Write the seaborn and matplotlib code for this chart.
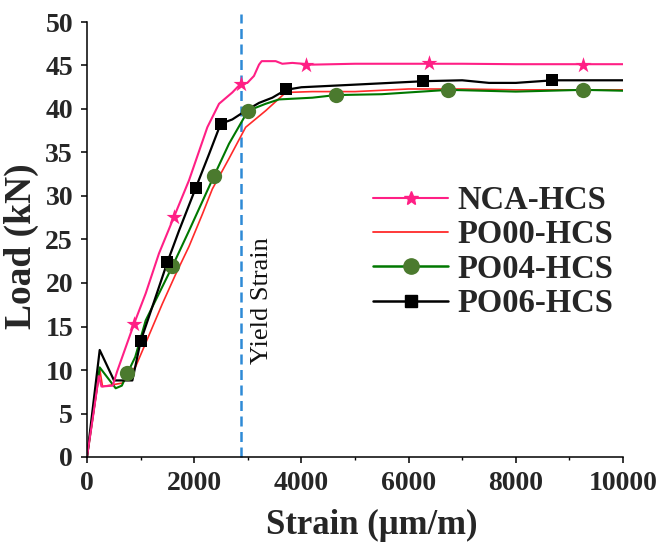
import matplotlib
matplotlib.use("Agg")
import matplotlib.pyplot as plt
from matplotlib.lines import Line2D
from matplotlib.ticker import MultipleLocator
import seaborn as sns
import pandas as pd

# ---------------- data ----------------
nca_strain = [0, 120, 220, 270, 480, 560, 877, 1095, 1343, 1623, 1903, 2245, 2463, 2711,
              2867, 2991, 3115, 3209, 3259, 3520, 3644, 3831, 4204, 5000, 6000, 7000,
              8000, 9000, 10000]
nca_load = [0, 5.0, 9.3, 8.1, 8.2, 9.8, 15.3, 18.8, 23.4, 27.6, 31.8, 37.9, 40.6, 41.9,
            42.9, 43.0, 43.8, 45.1, 45.5, 45.5, 45.2, 45.3, 45.1, 45.2, 45.2, 45.2,
            45.15, 45.15, 45.15]

po00_strain = [0, 240, 290, 659, 908, 1157, 1405, 1654, 1903, 2152, 2338, 2649, 2960,
               3333, 3707, 4204, 5000, 6000, 7000, 8000, 9000, 10000]
po00_load = [0, 10.0, 8.1, 8.5, 10.4, 14.0, 17.6, 21.0, 24.2, 27.9, 30.8, 34.3, 37.9,
             39.8, 41.9, 42.0, 42.0, 42.3, 42.3, 42.2, 42.2, 42.2]

po04_strain = [0, 237, 535, 650, 752, 900, 1095, 1592, 1903, 2369, 2649, 3004, 3333,
               3582, 4204, 4640, 5500, 6741, 8000, 9254, 10000]
po04_load = [0, 10.3, 7.9, 8.2, 9.6, 11.5, 15.7, 21.9, 26.0, 32.3, 36.0, 39.8, 40.6,
             41.1, 41.3, 41.6, 41.7, 42.2, 42.0, 42.2, 42.1]

po06_strain = [0, 237, 504, 846, 1000, 1281, 1500, 1716, 2027, 2276, 2494, 2711, 2960,
               3209, 3458, 3707, 4000, 5000, 6300, 7000, 7500, 8000, 8700, 10000]
po06_load = [0, 12.3, 8.8, 8.8, 13.3, 18.4, 22.4, 26.0, 30.9, 34.8, 38.3, 38.8, 39.8,
             40.7, 41.3, 42.2, 42.5, 42.8, 43.2, 43.3, 43.0, 43.0, 43.3, 43.3]

nca_mk_strain = [877, 1623, 2867, 4080, 6381, 9254]
nca_mk_load = [15.3, 27.6, 42.9, 45.1, 45.3, 45.1]
po04_mk_strain = [752, 1592, 2369, 3004, 4640, 6741, 9254]
po04_mk_load = [9.6, 21.9, 32.3, 39.8, 41.6, 42.2, 42.2]
po06_mk_strain = [1000, 1500, 2027, 2494, 3707, 6269, 8670]
po06_mk_load = [13.3, 22.4, 30.9, 38.3, 42.3, 43.2, 43.3]

yield_strain = 2870
series_names = ["NCA-HCS", "PO00-HCS", "PO04-HCS", "PO06-HCS"]
x_ticks = [0, 2000, 4000, 6000, 8000, 10000]
y_ticks = [0, 5, 10, 15, 20, 25, 30, 35, 40, 45, 50]

# ---------------- style ----------------
sns.set_style("ticks")
plt.rcParams["font.family"] = ["Liberation Serif", "DejaVu Serif"]
plt.rcParams["font.weight"] = "bold"

PINK = "#FF1F85"
RED = "#FF2A2A"
GREEN = "#007800"
GREEN_MK = "#4B7A2E"
BLACK = "#000000"
BLUE = "#2E8AD6"

fig = plt.figure(figsize=(6.66, 5.45), dpi=100)
ax = fig.add_axes([87 / 666, 88 / 545, 536 / 666, 435 / 545])

def line(xs, ys, color, lw):
    df = pd.DataFrame({"x": xs, "y": ys})
    sns.lineplot(data=df, x="x", y="y", ax=ax, color=color, linewidth=lw,
                 sort=False, estimator=None, legend=False)

line(po00_strain, po00_load, RED, 1.2)
line(po04_strain, po04_load, GREEN, 1.5)
line(po06_strain, po06_load, BLACK, 1.6)
line(nca_strain, nca_load, PINK, 1.5)

def marks(xs, ys, marker, color, size):
    df = pd.DataFrame({"x": xs, "y": ys})
    sns.scatterplot(data=df, x="x", y="y", ax=ax, marker=marker, color=color,
                    s=size ** 2, edgecolor=color, linewidth=0, zorder=5, legend=False)

marks(po04_mk_strain, po04_mk_load, "o", GREEN_MK, 11)
marks(po06_mk_strain, po06_mk_load, "s", BLACK, 8)
marks(nca_mk_strain, nca_mk_load, "*", PINK, 12)

# yield strain line
ax.plot([yield_strain, yield_strain], [0, 50.9], color=BLUE, linewidth=1.8,
        dashes=(4, 2.2), clip_on=False, zorder=1)
ax.text(3260, 18.0, "Yield Strain", rotation=90, ha="center", va="center",
        fontsize=19, fontweight="normal", color="#111111")

ax.set_xlim(0, 10000)
ax.set_ylim(0, 50)
ax.set_xticks(x_ticks)
ax.set_yticks(y_ticks)
ax.xaxis.set_minor_locator(MultipleLocator(1000))
ax.tick_params(axis="both", which="major", direction="out", length=4, width=1.1,
               pad=6, labelsize=20, color="black")
ax.tick_params(axis="x", which="minor", direction="out", length=2.5, width=1.0,
               color="black")
for lab in ax.get_xticklabels() + ax.get_yticklabels():
    lab.set_fontweight("bold")
sns.despine(ax=ax)
for sp in ["left", "bottom"]:
    ax.spines[sp].set_linewidth(1.1)
    ax.spines[sp].set_color("black")

ax.set_xlabel("Strain (μm/m)", fontsize=25, fontweight="bold")
ax.set_ylabel("Load (kN)", fontsize=27, fontweight="bold")
ax.xaxis.set_label_coords(0.532, -0.12)
ax.yaxis.set_label_coords(-0.09, 0.484)

handles = [
    Line2D([], [], color=PINK, linewidth=1.5, marker="*", markersize=10,
           markerfacecolor=PINK, markeredgecolor=PINK),
    Line2D([], [], color=RED, linewidth=1.3),
    Line2D([], [], color=GREEN, linewidth=1.8, marker="o", markersize=11,
           markerfacecolor=GREEN_MK, markeredgecolor=GREEN_MK),
    Line2D([], [], color=BLACK, linewidth=1.8, marker="s", markersize=8,
           markerfacecolor=BLACK, markeredgecolor=BLACK),
]
ax.legend(handles, series_names, loc="center left", bbox_to_anchor=(0.5336, 0.471),
          frameon=False, borderpad=0, borderaxespad=0, handlelength=2.3,
          handletextpad=0.3, labelspacing=0.1,
          prop={"family": ["Liberation Serif"], "weight": "bold", "size": 23.5})

fig.savefig("out.png", dpi=100)
